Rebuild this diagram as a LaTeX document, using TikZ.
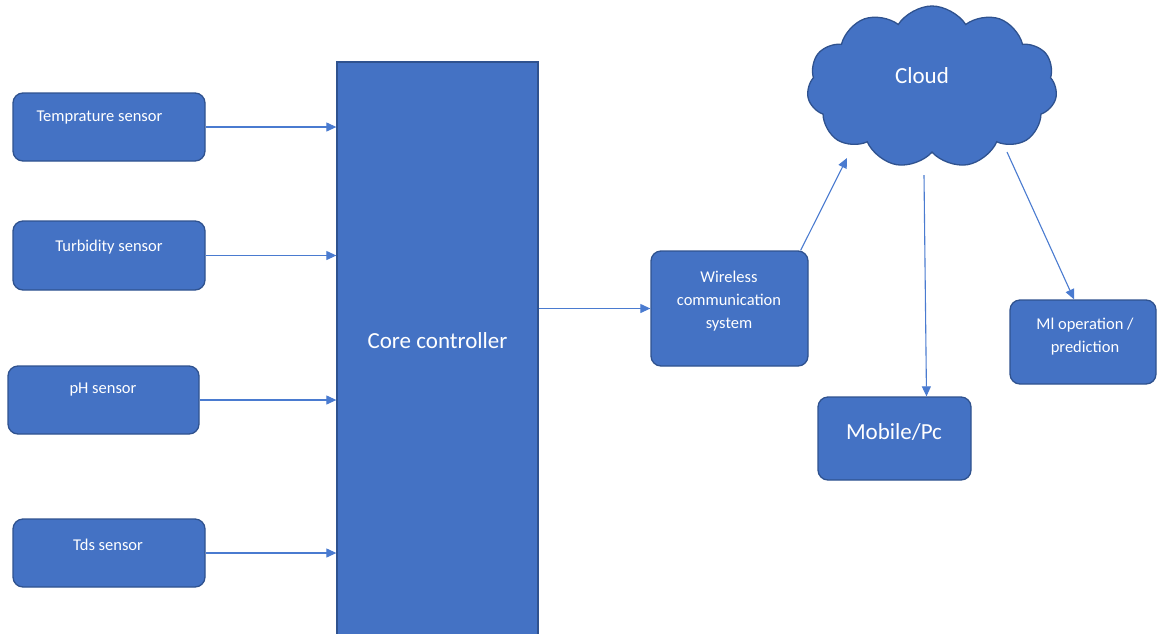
\documentclass[tikz,border=0pt]{standalone}
\usepackage{fontspec}
\setmainfont{Carlito}
\usetikzlibrary{arrows.meta,shapes.symbols}
\definecolor{bfill}{HTML}{4472C4}
\definecolor{bdraw}{HTML}{2F528F}
\definecolor{arr}{HTML}{4A7BD0}
\tikzset{
  box/.style={draw=bdraw, fill=bfill, line width=1.3pt, rounded corners=10pt, inner sep=0pt},
  corebox/.style={draw=bdraw, fill=bfill, line width=1.3pt, inner sep=0pt},
  small/.style={text=white, font=\fontsize{16.5}{23}\selectfont, align=center, inner sep=0pt},
  big/.style={text=white, font=\fontsize{23}{28}\selectfont, align=center, inner sep=0pt},
  conn/.style={draw=arr, line width=1.1pt, -{Triangle[length=10pt,width=9pt]}}
}
\begin{document}
\begin{tikzpicture}[x=1pt,y=-1pt]
\useasboundingbox (0,0) rectangle (1157,633);
% sensors
\node[box, minimum width=192pt, minimum height=68pt] (t1) at (109,127) {};
\node[small] (t1l) at (99.5,118) {Temprature sensor};
\node[box, minimum width=192pt, minimum height=69pt] (t2) at (109,255.5) {};
\node[small] (t2l) at (109,247) {Turbidity sensor};
\node[box, minimum width=191pt, minimum height=68pt] (t3) at (103.5,400) {};
\node[small] (t3l) at (103,390) {pH sensor};
\node[box, minimum width=192pt, minimum height=68pt] (t4) at (109,553) {};
\node[small] (t4l) at (108,545) {Tds sensor};
% core
\node[corebox, minimum width=201pt, minimum height=590pt] (core) at (437.5,357) {};
\node[big] (corel) at (437.5,341) {Core controller};
% wireless
\node[box, minimum width=157pt, minimum height=115pt] (w) at (729.5,308.5) {};
\node[small] (wl) at (729,301) {Wireless\\communication\\system};
% mobile
\node[box, minimum width=153pt, minimum height=83pt] (m) at (894.5,438.5) {};
\node[big] (ml) at (894,432) {Mobile/Pc};
% ML
\node[box, minimum width=146pt, minimum height=84pt] (ml2) at (1083,342) {};
\node[small] (ml2l) at (1085,336.5) {Ml operation /\\prediction};
% cloud
\node[cloud, cloud puffs=11, cloud puff arc=115, aspect=1.55, draw=bdraw, fill=bfill, line width=1.3pt,
      minimum width=250pt, minimum height=162pt, inner sep=0pt] (cl) at (932,87) {};
\node[big] (cll) at (922,76) {Cloud};
\coordinate (cin) at (847,158);
\coordinate (cout1) at (924,175);
\coordinate (cout2) at (1007,152);
% connectors
\draw[conn] (t1.east) -- (core.west |- t1.east);
\draw[conn] (t2.east) -- (core.west |- t2.east);
\draw[conn] (t3.east) -- (core.west |- t3.east);
\draw[conn] (t4.east) -- (core.west |- t4.east);
\draw[conn] (core.east |- w.west) -- (w.west);
\draw[conn] ([xshift=-8pt]w.north east) -- (cin);
\draw[conn] (cout1) -- ([xshift=32pt]m.north);
\draw[conn] (cout2) -- ([xshift=-9pt]ml2.north);
\end{tikzpicture}
\end{document}
